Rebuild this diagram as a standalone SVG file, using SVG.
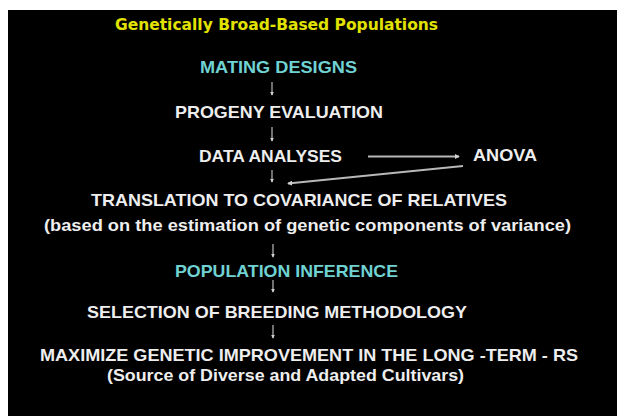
<svg xmlns="http://www.w3.org/2000/svg" width="617" height="416" viewBox="0 0 617 416">
  <style>
    .t { font-family: "Liberation Sans", Arial, sans-serif; font-weight: bold; font-size: 17px; fill: #eeeeee; }
    .c { fill: #70d2d2; }
    .title { font-family: "DejaVu Sans", Verdana, sans-serif; font-weight: bold; font-size: 15.5px; fill: #e2e200; }
    .v { stroke: #bdbdbd; stroke-width: 1.2; fill: none; marker-end: url(#ah); }
    .w { stroke: #b8b8b8; stroke-width: 2; fill: none; marker-end: url(#ah2); }
  </style>
  <defs>
    <marker id="ah" viewBox="0 0 6 6" refX="5" refY="3" markerWidth="4" markerHeight="4" markerUnits="userSpaceOnUse" orient="auto">
      <path d="M0,0 L6,3 L0,6 Z" fill="#d0d0d0"/>
    </marker>
    <marker id="ah2" viewBox="0 0 6 6" refX="5" refY="3" markerWidth="5" markerHeight="5" markerUnits="userSpaceOnUse" orient="auto">
      <path d="M0,0 L6,3 L0,6 Z" fill="#d0d0d0"/>
    </marker>
  </defs>
  <rect x="0" y="0" width="617" height="416" fill="#ffffff"/>
  <rect x="8" y="10" width="609" height="406" fill="#000000"/>

  <g id="title">
    <text class="title" x="115" y="30" textLength="323" lengthAdjust="spacingAndGlyphs">Genetically Broad-Based Populations</text>
  </g>
  <g id="mating-designs">
    <text class="t c" x="200" y="73" textLength="157" lengthAdjust="spacingAndGlyphs">MATING DESIGNS</text>
  </g>
  <g id="progeny-evaluation">
    <text class="t" x="175" y="118" textLength="208" lengthAdjust="spacingAndGlyphs">PROGENY EVALUATION</text>
  </g>
  <g id="data-analyses">
    <text class="t" x="199" y="162" textLength="143" lengthAdjust="spacingAndGlyphs">DATA ANALYSES</text>
  </g>
  <g id="anova">
    <text class="t" x="473" y="161" textLength="64" lengthAdjust="spacingAndGlyphs">ANOVA</text>
  </g>
  <g id="translation">
    <text class="t" x="91" y="206" textLength="416" lengthAdjust="spacingAndGlyphs">TRANSLATION TO COVARIANCE OF RELATIVES</text>
    <text class="t" x="44" y="231" textLength="527" lengthAdjust="spacingAndGlyphs">(based on the estimation of genetic components of variance)</text>
  </g>
  <g id="population-inference">
    <text class="t c" x="175" y="277" textLength="223" lengthAdjust="spacingAndGlyphs">POPULATION INFERENCE</text>
  </g>
  <g id="selection">
    <text class="t" x="87" y="318" textLength="380" lengthAdjust="spacingAndGlyphs">SELECTION OF BREEDING METHODOLOGY</text>
  </g>
  <g id="maximize">
    <text class="t" x="40" y="361" textLength="538" lengthAdjust="spacingAndGlyphs">MAXIMIZE GENETIC IMPROVEMENT IN THE LONG -TERM - RS</text>
    <text class="t" x="107" y="381" textLength="357" lengthAdjust="spacingAndGlyphs">(Source of Diverse and Adapted Cultivars)</text>
  </g>

  <g id="connectors">
    <line class="v" x1="272" y1="82" x2="272" y2="95"/>
    <line class="v" x1="272" y1="127" x2="272" y2="141"/>
    <line class="v" x1="272" y1="170" x2="272" y2="182"/>
    <line class="v" x1="273" y1="244" x2="273" y2="257"/>
    <line class="v" x1="273" y1="280" x2="273" y2="292"/>
    <line class="v" x1="273" y1="325" x2="273" y2="338"/>
    <line class="w" x1="368" y1="156.5" x2="459" y2="156.5"/>
    <line class="w" x1="463" y1="166" x2="288" y2="183.5"/>
  </g>
</svg>
